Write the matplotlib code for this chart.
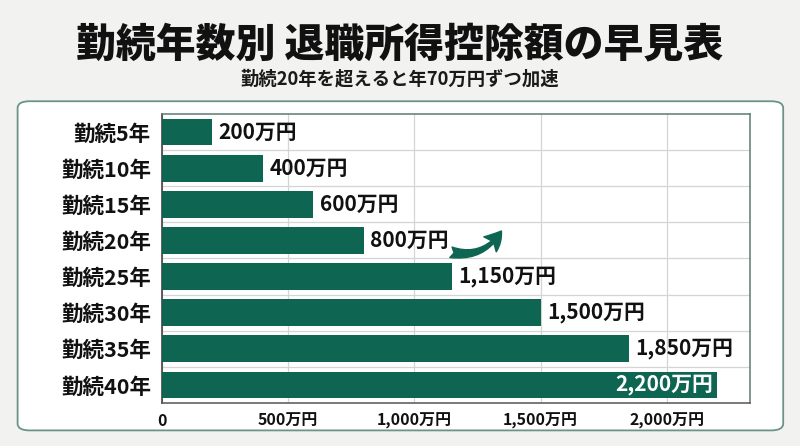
import matplotlib
matplotlib.use("Agg")
import matplotlib.pyplot as plt
from matplotlib.patches import FancyBboxPatch
from matplotlib.ticker import FixedLocator

plt.rcParams['font.family'] = ['Noto Sans CJK JP', 'DejaVu Sans']

categories = ["勤続5年", "勤続10年", "勤続15年", "勤続20年", "勤続25年", "勤続30年", "勤続35年", "勤続40年"]
values = [200, 400, 600, 800, 1150, 1500, 1850, 2200]
value_labels = ["200万円", "400万円", "600万円", "800万円", "1,150万円", "1,500万円", "1,850万円", "2,200万円"]
xticks = [0, 500, 1000, 1500, 2000]
xtick_labels = ["0", "500万円", "1,000万円", "1,500万円", "2,000万円"]
title = "勤続年数別 退職所得控除額の早見表"
subtitle = "勤続20年を超えると年70万円ずつ加速"

BAR = "#0e6652"
fig = plt.figure(figsize=(8, 4.46), dpi=100)
fig.patch.set_facecolor("#f2f2f1")

panel = FancyBboxPatch((0.022, 0.035), 0.957, 0.738, boxstyle="round,pad=0,rounding_size=0.015",
                       transform=fig.transFigure, facecolor="white", edgecolor="#6a9586", linewidth=1.3,
                       zorder=-5)
fig.patches.append(panel)

fig.text(0.5, 0.9, title, ha="center", va="center", fontsize=28.7, fontweight="black", color="#111111")
fig.text(0.5, 0.822, subtitle, ha="center", va="center", fontsize=13.2, fontweight="bold", color="#1a1a1a")

ax = fig.add_axes([0.2025, 0.0965, 0.735, 0.648])
ax.set_zorder(2)
ax.set_facecolor("white")
y = list(range(len(categories)))
ax.barh(y, values, height=0.74, color=BAR, zorder=3)
ax.set_ylim(len(categories) - 0.5, -0.5)
ax.set_xlim(0, 2330)
ax.set_yticks(y)
ax.set_yticklabels(categories, fontsize=15.5, fontweight="bold", color="#111111")
ax.set_xticks(xticks)
ax.set_xticklabels(xtick_labels, fontsize=11.5, fontweight="bold", color="#111111")
ax.yaxis.set_minor_locator(FixedLocator([i + 0.5 for i in range(len(categories) - 1)]))
ax.tick_params(axis="both", which="both", length=0)
ax.tick_params(axis="x", pad=7)
ax.tick_params(axis="y", pad=8)
ax.grid(axis="x", which="major", color="#d4d4d4", linewidth=0.9, zorder=0)
ax.grid(axis="y", which="minor", color="#d4d4d4", linewidth=0.9, zorder=0)
ax.grid(axis="y", which="major", visible=False)
for s in ["top", "right"]:
    ax.spines[s].set_color("#5d7a70")
    ax.spines[s].set_linewidth(1.1)
ax.spines["left"].set_color("#333333")
ax.spines["bottom"].set_color("#555555")
ax.spines["left"].set_linewidth(1.1)
ax.spines["bottom"].set_linewidth(1.1)

for i, (v, lab) in enumerate(zip(values, value_labels)):
    if i == len(values) - 1:
        ax.text(v - 15, i, lab, ha="right", va="center", fontsize=15, fontweight="bold", color="white", zorder=4)
    else:
        ax.text(v + 25, i, lab, ha="left", va="center", fontsize=15, fontweight="bold", color="#111111", zorder=4)

ax.annotate("", xy=(1345, 2.74), xytext=(1145, 3.33),
            arrowprops=dict(arrowstyle="fancy,head_length=0.9,head_width=1.0,tail_width=0.55",
                            color=BAR, mutation_scale=14,
                            connectionstyle="arc3,rad=0.35", shrinkA=0, shrinkB=0), zorder=5)

fig.savefig("out.png", dpi=100, facecolor=fig.get_facecolor())
